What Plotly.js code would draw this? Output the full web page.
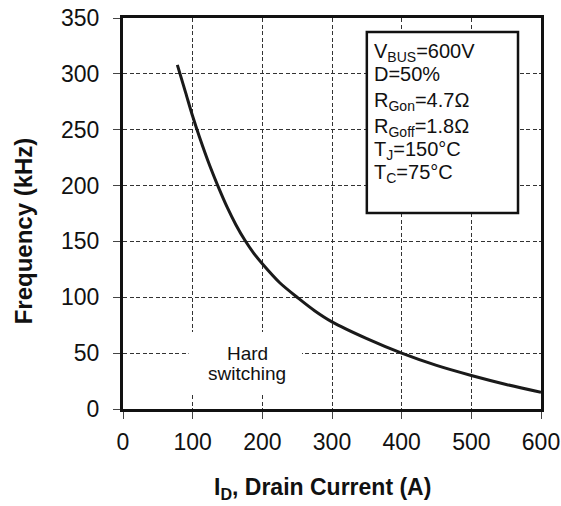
<!DOCTYPE html>
<html>
<head>
<meta charset="utf-8">
<script src="https://cdn.plot.ly/plotly-3.0.1.min.js"></script>
<style>html,body{margin:0;padding:0;background:#fff;}#chart{width:561px;height:506px;}</style>
</head>
<body>
<div id="chart"></div>
<script>
var currentA = [78, 90, 100, 110, 125, 136, 150, 162, 175, 187, 200, 225, 252, 275, 300, 350, 400, 450, 500, 550, 600];
var freqKHz  = [308, 283, 262, 243, 217, 200, 180, 165, 151, 140, 130, 113, 99, 88, 78, 63, 50, 39, 30, 22, 15];
var xTicks = [0, 100, 200, 300, 400, 500, 600];
var yTicks = [0, 50, 100, 150, 200, 250, 300, 350];
var condLines = ["V<sub>BUS</sub>=600V", "D=50%", "R<sub>Gon</sub>=4.7Ω", "R<sub>Goff</sub>=1.8Ω", "T<sub>J</sub>=150°C", "T<sub>C</sub>=75°C"];
var noteLines = ["Hard", "switching"];
var xTitle = "<b>I<sub>D</sub>, Drain Current (A)</b>";
var yTitle = "<b>Frequency (kHz)</b>";

var condCapCenterPx = [50.5, 72.5, 99, 124.5, 147.5, 170.5];
var noteCapCenterPx = [353, 373];

var font = "Liberation Sans, Arial, sans-serif";
var plotTop = 18, plotBottom = 409, plotLeft = 122.7, plotRight = 541;
var W = plotRight - plotLeft, H = plotBottom - plotTop;
function px2paperX(p){ return (p - plotLeft) / W; }
function px2paperY(p){ return 1 - (p - plotTop) / H; }

var trace = {x: currentA, y: freqKHz, mode: "lines", line: {color: "#1a1a1a", width: 3, shape: "spline", smoothing: 0.8}, hoverinfo: "skip"};

var annotations = condLines.map(function(t, i){
  return {xref: "paper", yref: "paper", x: px2paperX(372), y: px2paperY(condCapCenterPx[i] - 12),
    xanchor: "left", yanchor: "top", text: t, showarrow: false,
    font: {family: font, size: 20, color: "#111"}};
});
noteLines.forEach(function(t, i){
  annotations.push({xref: "paper", yref: "paper", x: px2paperX(247), y: px2paperY(noteCapCenterPx[i]),
    text: t, showarrow: false, xanchor: "center", yanchor: "middle",
    font: {family: font, size: 19, color: "#111"}});
});
annotations.push({xref: "paper", yref: "paper", x: px2paperX(322.5), y: px2paperY(488), text: xTitle,
  showarrow: false, xanchor: "center", yanchor: "middle", font: {family: font, size: 23, color: "#111"}});
annotations.push({xref: "paper", yref: "paper", x: px2paperX(23), y: px2paperY(231), text: yTitle, textangle: -90,
  showarrow: false, xanchor: "center", yanchor: "middle", font: {family: font, size: 24, color: "#111"}});

var gridDash = "4px,2.5px";
var layout = {
  width: 561, height: 506,
  margin: {l: plotLeft, r: 561 - plotRight, t: plotTop, b: 506 - plotBottom},
  paper_bgcolor: "#fff", plot_bgcolor: "#fff",
  showlegend: false,
  font: {family: font, size: 23, color: "#111"},
  xaxis: {range: [0, 600], tickvals: xTicks, ticks: "outside", ticklen: 7, tickcolor: "#444", tickwidth: 1,
    ticklabelstandoff: 3,
    showgrid: true, gridcolor: "#333", griddash: gridDash, gridwidth: 1,
    showline: true, linecolor: "#111", linewidth: 3, mirror: true, zeroline: false,
    tickfont: {family: font, size: 23, color: "#111"}},
  yaxis: {range: [0, 350], tickvals: yTicks, ticks: "outside", ticklen: 7, tickcolor: "#444", tickwidth: 1,
    ticklabelstandoff: 9,
    showgrid: true, gridcolor: "#333", griddash: gridDash, gridwidth: 1,
    showline: true, linecolor: "#111", linewidth: 3, mirror: true, zeroline: false,
    tickfont: {family: font, size: 23, color: "#111"}},
  shapes: [
    {type: "rect", xref: "x", yref: "y", x0: 350, x1: 567, y0: 175.5, y1: 337.5, layer: "above",
      fillcolor: "#fff", line: {color: "#111", width: 2.5}},
    {type: "rect", xref: "x", yref: "y", x0: 94, x1: 257, y0: 14, y1: 69, layer: "above",
      fillcolor: "#fff", line: {width: 0}}
  ],
  annotations: annotations
};
Plotly.newPlot("chart", [trace], layout, {displayModeBar: false, staticPlot: true});
</script>
</body>
</html>
